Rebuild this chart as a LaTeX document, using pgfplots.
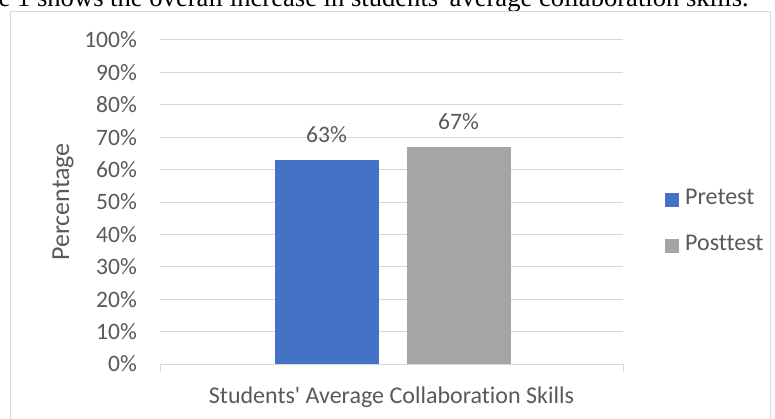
\documentclass[border=0pt]{standalone}
\usepackage{pgfplots}
\pgfplotsset{compat=1.18}
\usepackage{fontspec}
\setmainfont{Carlito}[Ligatures=NoCommon]
\newfontfamily\tnr{Liberation Serif}
\definecolor{cblue}{RGB}{68,114,196}
\definecolor{cgray}{RGB}{165,165,165}
\definecolor{ctext}{RGB}{89,89,89}
\definecolor{cgrid}{RGB}{217,217,217}
\begin{document}
\begin{tikzpicture}[x=1pt,y=1pt]
\useasboundingbox (0pt,0pt) rectangle (775pt,418pt);
\clip (0pt,0pt) rectangle (775pt,418pt);
\node[anchor=base east, inner sep=0pt, font=\tnr\fontsize{26.6}{31}\selectfont] at (749pt,411pt) {Figure 1 shows the overall increase in students\textquotesingle{} average collaboration skills.};
\draw[cgrid, line width=1pt] (10pt,406pt) -- (770pt,406pt) -- (770pt,-5pt);
\draw[cgrid, line width=1pt] (10pt,406pt) -- (10pt,-5pt);
\begin{axis}[
  at={(160pt,54pt)}, anchor=south west,
  scale only axis, width=463pt, height=324pt,
  ymin=0, ymax=100, xmin=-1, xmax=1,
  /pgf/number format/assume math mode=true,
  ytick={0,10,...,100},
  yticklabel={\pgfmathprintnumber{\tick}\%},
  yticklabel style={anchor=east, inner sep=0pt, xshift=-23pt, font=\fontsize{23.5}{27}\selectfont},
  xtick={0}, xticklabels={Students\textquotesingle{} Average Collaboration Skills},
  xticklabel style={anchor=base, inner sep=0pt, yshift=-39pt, font=\fontsize{24}{28}\selectfont},
  major tick length=0pt,
  extra x ticks={-1,1}, extra x tick labels={},
  extra x tick style={major tick length=8pt, tick align=outside, tick pos=bottom, tick style={cgrid, line width=1pt}, grid=none},
  axis line style={draw=none},
  ymajorgrids, grid style={cgrid, line width=1pt},
  ybar, bar width=104pt,
  ylabel={Percentage},
  ylabel style={at={(axis description cs:-0.2095,0.5)}, anchor=center, font=\fontsize{26}{30}\selectfont},
  tick label style={text=ctext},
  label style={text=ctext},
  nodes near coords={\pgfmathprintnumber{\pgfplotspointmeta}\%},
  nodes near coords style={anchor=base, inner sep=0pt, yshift=17pt, font=\fontsize{23.5}{27}\selectfont, text=ctext},
  legend style={at={(axis description cs:1.0907,0.4367)}, anchor=west, draw=none, fill=none, inner sep=0pt, row sep=29pt, font=\fontsize{24}{28}\selectfont, text=ctext, column sep=0pt, nodes={inner sep=0pt, text height=13pt, text depth=4pt}},
  legend image code/.code={\fill[#1] (0pt,-7pt) rectangle (14pt,7pt);},
  legend cell align=left,
]
\addplot[fill=cblue, draw=none, bar shift=-65pt] coordinates {(0,63)};
\addplot[fill=cgray, draw=none, bar shift=67pt] coordinates {(0,67)};
\legend{\hspace{6pt}Pretest, \hspace{6pt}Posttest}
\end{axis}
\end{tikzpicture}
\end{document}
